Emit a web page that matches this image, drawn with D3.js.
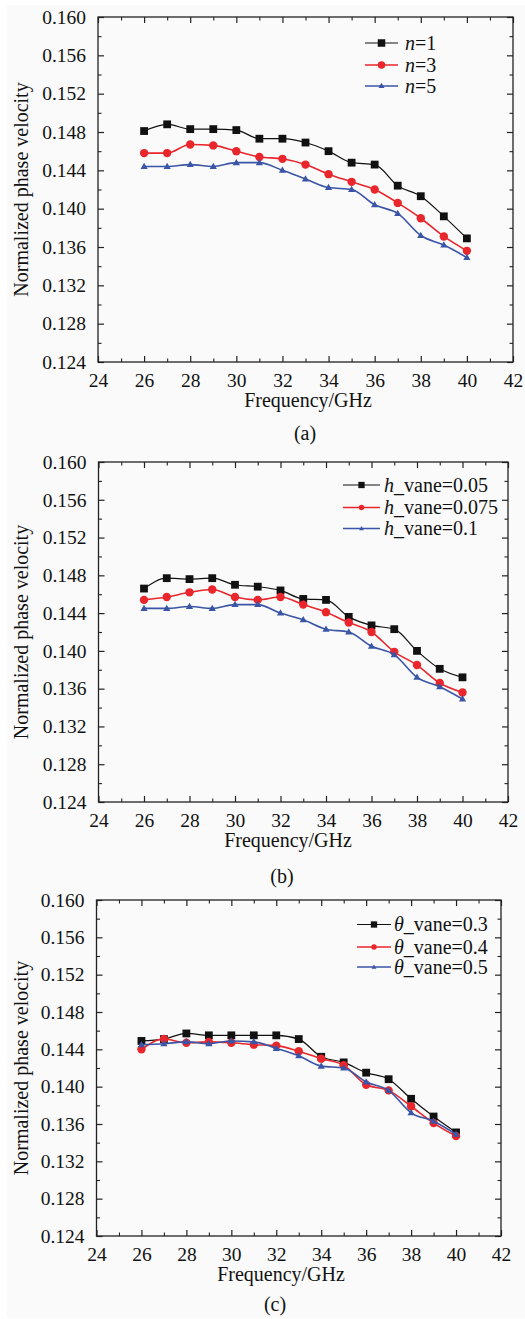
<!DOCTYPE html>
<html>
<head>
<meta charset="utf-8">
<script src="https://cdn.jsdelivr.net/npm/d3@7"></script>
<style>
  html, body { margin: 0; padding: 0; background: #fff; }
  svg { display: block; }
  text { font-family: "Liberation Serif", "Times New Roman", serif; fill: #111; }
</style>
</head>
<body>
<div id="chart"></div>
<script>
// frequency points (GHz)
const freqGHz = [26, 27, 28, 29, 30, 31, 32, 33, 34, 35, 36, 37, 38, 39, 40];

// (a) number of vanes n
const n1 = [0.1481, 0.1488, 0.1483, 0.1483, 0.1482, 0.1473, 0.1473, 0.1469, 0.1460, 0.1448, 0.1446, 0.1424, 0.1413, 0.1392, 0.1369];
const n3 = [0.1458, 0.1458, 0.1467, 0.1466, 0.1460, 0.1454, 0.1452, 0.1446, 0.1436, 0.1428, 0.1420, 0.1406, 0.1390, 0.1371, 0.1356];
const n5 = [0.1444, 0.1444, 0.1446, 0.1444, 0.1448, 0.1448, 0.1440, 0.1431, 0.1422, 0.1420, 0.1404, 0.1395, 0.1372, 0.1362, 0.1349];

// (b) vane height
const hVane005 = [0.1466, 0.1477, 0.1476, 0.1477, 0.1470, 0.1468, 0.1464, 0.1455, 0.1454, 0.1436, 0.1427, 0.1423, 0.1400, 0.1381, 0.1372];
const hVane0075 = [0.1454, 0.1457, 0.1462, 0.1465, 0.1457, 0.1454, 0.1457, 0.1449, 0.1441, 0.1430, 0.1420, 0.1399, 0.1385, 0.1366, 0.1356];
const hVane01 = [0.1445, 0.1445, 0.1447, 0.1445, 0.1449, 0.1449, 0.1440, 0.1433, 0.1423, 0.1420, 0.1405, 0.1396, 0.1372, 0.1362, 0.1349];

// (c) vane angle
const thVane03 = [0.1449, 0.1451, 0.1457, 0.1455, 0.1455, 0.1455, 0.1455, 0.1451, 0.1432, 0.1426, 0.1415, 0.1408, 0.1387, 0.1368, 0.1351];
const thVane04 = [0.1440, 0.1451, 0.1447, 0.1448, 0.1447, 0.1445, 0.1444, 0.1438, 0.1430, 0.1423, 0.1402, 0.1396, 0.1379, 0.1361, 0.1347];
const thVane05 = [0.1445, 0.1446, 0.1448, 0.1446, 0.1449, 0.1448, 0.1441, 0.1433, 0.1422, 0.1420, 0.1405, 0.1396, 0.1372, 0.1363, 0.1349];

const xMajor = [24, 26, 28, 30, 32, 34, 36, 38, 40, 42];
const xMinor = [25, 27, 29, 31, 33, 35, 37, 39, 41];
const yMajor = [0.124, 0.128, 0.132, 0.136, 0.140, 0.144, 0.148, 0.152, 0.156, 0.160];
const yMinor = [0.126, 0.130, 0.134, 0.138, 0.142, 0.146, 0.150, 0.154, 0.158];

const seriesStyle = [
    { color: "#111111", width: 1.2, shape: "square" },
    { color: "#e8262b", width: 1.6, shape: "circle" },
    { color: "#3a55a6", width: 1.6, shape: "triangle" }
];

const panels = [
    {
        caption: "(a)",
        series: [n1, n3, n5],
        legend: [["n", "=1"], ["n", "=3"], ["n", "=5"]],
        box: { x0: 98, x1: 513, y0: 17, y1: 362 },
        xTitleX: 308, captionX: 305, captionY: 440,
        leg: { l0: 365, l1: 398, tx: 405, rows: [43, 65, 86], big: true }
    },
    {
        caption: "(b)",
        series: [hVane005, hVane0075, hVane01],
        legend: [["h", "_vane=0.05"], ["h", "_vane=0.075"], ["h", "_vane=0.1"]],
        box: { x0: 98.5, x1: 508, y0: 462, y1: 802 },
        xTitleX: 288, captionX: 282, captionY: 883,
        leg: { l0: 343, l1: 380, tx: 384, rows: [485, 507.5, 528.5], big: false }
    },
    {
        caption: "(c)",
        series: [thVane03, thVane04, thVane05],
        legend: [["\u03b8", "_vane=0.3"], ["\u03b8", "_vane=0.4"], ["\u03b8", "_vane=0.5"]],
        box: { x0: 96.5, x1: 501, y0: 900, y1: 1236 },
        xTitleX: 281, captionX: 275, captionY: 1311,
        leg: { l0: 357, l1: 391, tx: 394, rows: [924.5, 947, 967], big: false }
    }
];

const W = 525, H = 1319;
const svg = d3.select("#chart").append("svg")
    .attr("width", W)
    .attr("height", H);

svg.append("rect")
    .attr("x", 7).attr("y", 5)
    .attr("width", W - 7).attr("height", H - 6)
    .attr("fill", "#fafafa");

function drawMarker(sel, shape, cx, cy, s, color) {
    if (shape === "square") {
        sel.append("rect")
            .attr("x", cx - s / 2).attr("y", cy - s / 2)
            .attr("width", s).attr("height", s)
            .attr("fill", color);
    } else if (shape === "circle") {
        sel.append("circle")
            .attr("cx", cx).attr("cy", cy).attr("r", s / 2)
            .attr("fill", color);
    } else {
        const h = s * 0.87;
        sel.append("path")
            .attr("d", `M${cx},${cy - h * 0.6}L${cx + s / 2},${cy + h * 0.4}L${cx - s / 2},${cy + h * 0.4}Z`)
            .attr("fill", color);
    }
}

panels.forEach(p => {
    const b = p.box;
    const x = d3.scaleLinear().domain([24, 42]).range([b.x0, b.x1]);
    const y = d3.scaleLinear().domain([0.124, 0.160]).range([b.y1, b.y0]);
    const g = svg.append("g");

    // inward ticks on all four sides
    const axes = [
        { ax: d3.axisBottom(x), t: `translate(0,${b.y1})`, major: xMajor, minor: xMinor, labels: true },
        { ax: d3.axisTop(x), t: `translate(0,${b.y0})`, major: xMajor, minor: xMinor, labels: false },
        { ax: d3.axisLeft(y), t: `translate(${b.x0},0)`, major: yMajor, minor: yMinor, labels: true },
        { ax: d3.axisRight(y), t: `translate(${b.x1},0)`, major: yMajor, minor: yMinor, labels: false }
    ];
    axes.forEach((a, i) => {
        const isY = i >= 2;
        const major = g.append("g")
            .attr("transform", a.t)
            .call(a.ax.tickValues(a.major).tickSize(-6)
                .tickPadding(isY ? 12 : 11)
                .tickFormat(a.labels ? (isY ? d3.format(".3f") : d3.format("d")) : ""));
        major.select(".domain").remove();
        major.selectAll("line").attr("stroke", "#222").attr("stroke-width", 1.2);
        major.selectAll("text")
            .attr("fill", "#111")
            .style("font-size", "19.5px")
            .style("font-family", "'Liberation Serif', 'Times New Roman', serif");

        const minor = g.append("g")
            .attr("transform", a.t)
            .call(a.ax.tickValues(a.minor).tickSize(-3.5).tickFormat(""));
        minor.select(".domain").remove();
        minor.selectAll("line").attr("stroke", "#222").attr("stroke-width", 1.1);
    });

    g.append("rect")
        .attr("x", b.x0).attr("y", b.y0)
        .attr("width", b.x1 - b.x0).attr("height", b.y1 - b.y0)
        .attr("fill", "none")
        .attr("stroke", "#222")
        .attr("stroke-width", 1.3);

    // series
    const line = d3.line()
        .x((d, i) => x(freqGHz[i]))
        .y(d => y(d))
        .curve(d3.curveMonotoneX);

    p.series.forEach((vals, si) => {
        const st = seriesStyle[si];
        g.append("path")
            .datum(vals)
            .attr("d", line)
            .attr("fill", "none")
            .attr("stroke", st.color)
            .attr("stroke-width", st.width);
        const size = st.shape === "square" ? 7.8 : st.shape === "circle" ? 8.4 : 7.2;
        vals.forEach((v, i) => drawMarker(g, st.shape, x(freqGHz[i]), y(v), size, st.color));
    });

    // legend
    const lg = p.leg;
    p.legend.forEach((lab, si) => {
        const st = seriesStyle[si];
        const ry = lg.rows[si];
        g.append("line")
            .attr("x1", lg.l0).attr("x2", lg.l1)
            .attr("y1", ry).attr("y2", ry)
            .attr("stroke", st.color)
            .attr("stroke-width", st.width);
        const size = lg.big
            ? (st.shape === "triangle" ? 6 : 7.5)
            : (st.shape === "square" ? 6.3 : st.shape === "circle" ? 5.4 : 4.8);
        drawMarker(g, st.shape, (lg.l0 + lg.l1) / 2, ry, size, st.color);
        const t = g.append("text")
            .attr("x", lg.tx).attr("y", ry)
            .attr("dy", "0.34em")
            .style("font-size", "20px");
        t.append("tspan").style("font-style", "italic").text(lab[0]);
        t.append("tspan").text(lab[1]);
    });

    // titles
    g.append("text")
        .attr("x", p.xTitleX).attr("y", b.y1 + 45)
        .attr("text-anchor", "middle")
        .style("font-size", "20px")
        .text("Frequency/GHz");

    g.append("text")
        .attr("transform", `translate(28,${(b.y0 + b.y1) / 2}) rotate(-90)`)
        .attr("text-anchor", "middle")
        .style("font-size", "20px")
        .text("Normalized phase velocity");

    g.append("text")
        .attr("x", p.captionX).attr("y", p.captionY)
        .attr("text-anchor", "middle")
        .style("font-size", "20px")
        .text(p.caption);
});
</script>
</body>
</html>
